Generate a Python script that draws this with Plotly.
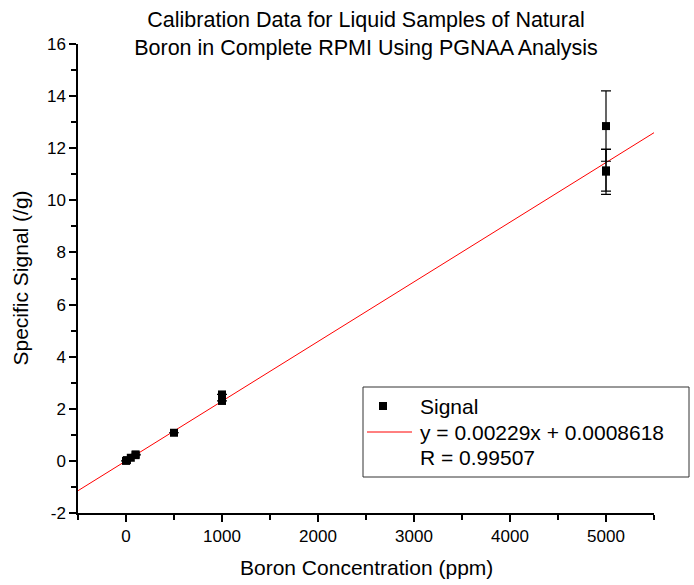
import plotly.graph_objects as go

# Data
conc = [0, 10, 50, 100, 100, 500, 1000, 1000, 5000, 5000, 5000]
signal = [0.0, 0.03, 0.12, 0.22, 0.25, 1.08, 2.3, 2.55, 12.85, 11.1, 11.15]
signal_err = [0.0, 0.0, 0.0, 0.0, 0.0, 0.0, 0.0, 0.0, 1.35, 0.87, 0.8]
slope = 0.00229
intercept = 0.0008618
r_value = 0.99507
fit_x = [-500, 5500]
fit_y = [slope * x + intercept for x in fit_x]
x_ticks = [0, 1000, 2000, 3000, 4000, 5000]
y_ticks = list(range(-2, 17, 2))

W, H = 694, 585
L, R, T, B = 78, 654, 44, 513  # plot area in pixels


def px(x):
    return (x - L) / (R - L)


def py(y):
    return (B - y) / (B - T)


fig = go.Figure()
fig.add_trace(go.Scatter(
    x=fit_x, y=fit_y, mode="lines",
    line=dict(color="#ff0000", width=1), showlegend=False, hoverinfo="skip"))
fig.add_trace(go.Scatter(
    x=conc, y=signal, mode="markers",
    marker=dict(symbol="square", size=8, color="black"),
    error_y=dict(type="data", array=signal_err, color="black", thickness=1.2, width=5),
    showlegend=False))

font = dict(family="Liberation Sans, Arial, sans-serif", color="black")
big = 21

shapes = [
    dict(type="rect", xref="paper", yref="paper", x0=px(363), x1=px(689), y0=py(387), y1=py(477),
         line=dict(color="#333333", width=1), fillcolor="white", layer="above"),
    dict(type="rect", xref="paper", yref="paper", x0=px(379), x1=px(387), y0=py(402), y1=py(410),
         line=dict(color="black", width=0), fillcolor="black", layer="above"),
    dict(type="line", xref="paper", yref="paper", x0=px(367), x1=px(412), y0=py(432), y1=py(432),
         line=dict(color="#ff0000", width=1), layer="above"),
]
annotations = [
    dict(text="Signal", x=px(418), y=py(406), xref="paper", yref="paper", xanchor="left", yanchor="middle",
         showarrow=False, font=dict(size=big, **font)),
    dict(text=f"y = {slope}x + {intercept}", x=px(418), y=py(432), xref="paper", yref="paper",
         xanchor="left", yanchor="middle", showarrow=False, font=dict(size=big, **font)),
    dict(text=f"R = {r_value}", x=px(418), y=py(457), xref="paper", yref="paper",
         xanchor="left", yanchor="middle", showarrow=False, font=dict(size=big, **font)),
    dict(text="Boron Concentration (ppm)", x=px((L + R) / 2), y=py(567), xref="paper", yref="paper",
         xanchor="center", yanchor="middle", showarrow=False, font=dict(size=big, **font)),
    dict(text="Specific Signal (/g)", x=px(20), y=py((T + B) / 2), xref="paper", yref="paper",
         xanchor="center", yanchor="middle", showarrow=False, textangle=-90, font=dict(size=big, **font)),
]

axis_common = dict(
    showgrid=False, zeroline=False, showline=True, linecolor="black", linewidth=1.5,
    ticks="outside", ticklen=7, tickwidth=1.5, tickcolor="black",
    tickfont=dict(size=17, **font),
)

fig.update_layout(
    width=W, height=H,
    margin=dict(l=L, r=W - R, t=T, b=H - B),
    paper_bgcolor="white", plot_bgcolor="white",
    title=dict(text="Calibration Data for Liquid Samples of Natural<br>Boron in Complete RPMI Using PGNAA Analysis",
               x=px((L + R) / 2), xref="paper", xanchor="center", y=1 - 27 / H, yanchor="middle",
               font=dict(size=21.5, **font)),
    xaxis=dict(range=[-500, 5500], tickvals=x_ticks, ticktext=[str(v) for v in x_ticks],
               minor=dict(tickvals=[-500, 500, 1500, 2500, 3500, 4500, 5500], ticks="outside",
                          ticklen=5, tickwidth=1.5, tickcolor="black"),
               **axis_common),
    yaxis=dict(range=[-2, 16], tickvals=y_ticks, ticktext=[str(v) for v in y_ticks],
               minor=dict(tickvals=list(range(-1, 17, 2)), ticks="outside",
                          ticklen=5, tickwidth=1.5, tickcolor="black"),
               **axis_common),
    shapes=shapes, annotations=annotations,
)

fig.write_html("out.html")
